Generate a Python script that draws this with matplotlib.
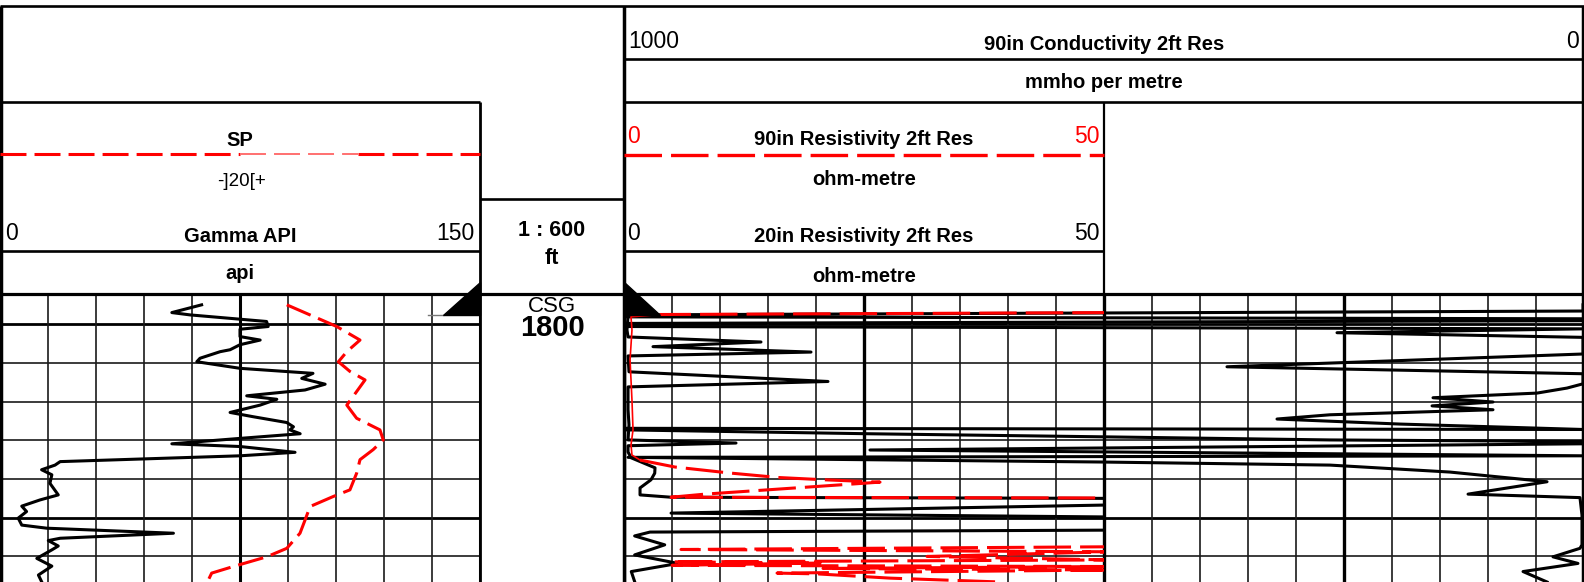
import matplotlib
matplotlib.use('Agg')
from matplotlib import pyplot as plt

plt.rcParams['font.family'] = ['Liberation Sans', 'DejaVu Sans']
plt.rcParams['lines.scale_dashes'] = False

W, H = 1584, 582

# depth window (ft) and grid depths
top_depth, base_depth = 1792.2, 1866.6
grid_depths = [1800, 1810, 1820, 1830, 1840, 1850, 1860]
thick_depths = [1800, 1850]

# Gamma ray (API, 0-150)
gr_depth = [1795.0, 1797.0, 1797.6, 1799.3, 1800.6, 1801.3, 1803.2, 1804.1, 1805.3, 1806.6,
            1807.1, 1808.8, 1809.7, 1811.4, 1812.7, 1814.0, 1815.5, 1817.0, 1818.5, 1819.4,
            1820.9, 1822.8, 1823.9, 1825.4, 1826.5, 1827.3, 1828.3, 1829.5, 1830.9, 1831.6,
            1833.1, 1834.0, 1835.5, 1836.4, 1837.6, 1838.9, 1841.1, 1844.1, 1845.4, 1847.0,
            1848.4, 1850.1, 1851.9, 1852.7, 1854.0, 1855.3, 1855.9, 1857.3, 1858.3, 1860.5,
            1862.5, 1864.8, 1866.5]
gr_api = [63.0, 53.7, 59.4, 83.3, 83.8, 75.0, 75.0, 81.3, 75.0, 71.9,
          68.8, 62.5, 61.5, 75.0, 97.8, 94.3, 101.6, 95.3, 77.1, 86.5,
          81.3, 71.9, 79.1, 89.6, 91.7, 90.6, 93.8, 75.0, 53.7, 75.0,
          92.2, 75.0, 18.8, 17.2, 13.0, 16.2, 15.6, 18.2, 12.5, 6.8,
          8.3, 5.7, 6.8, 14.6, 54.2, 18.8, 15.1, 18.2, 16.2, 11.5,
          16.2, 12.0, 13.0]

# SP (mV, 20 mV per division)
sp_depth = [1795.0, 1800.6, 1804.1, 1807.1, 1809.7, 1812.2, 1814.4, 1817.4, 1820.9, 1824.3,
            1827.3, 1829.9, 1832.4, 1835.0, 1838.5, 1842.8, 1844.5, 1847.1, 1850.6, 1854.0,
            1857.9, 1860.1, 1862.6, 1864.3, 1866.1]
sp_mv = [19.5, 40.3, 50.0, 44.5, 41.0, 45.8, 52.1, 48.6, 44.5, 48.6,
         58.3, 59.7, 55.5, 50.0, 48.6, 45.8, 38.9, 29.2, 27.1, 25.0,
         19.5, 11.1, -2.8, -11.8, -13.2]

# 20in resistivity (ohm-m, 0-50)
res20_depth = [1797.9, 1801.5, 1803.3, 1804.6, 1805.8, 1807.2, 1808.2, 1812.3, 1814.8, 1816.2,
               1822.1, 1826.0, 1829.9, 1830.7, 1831.4, 1833.0, 1834.5, 1837.1, 1838.5, 1840.2,
               1842.3, 1844.1, 1844.7, 1845.0, 1846.7, 1848.8, 1849.8, 1853.2, 1853.7, 1854.7,
               1857.0, 1859.6, 1861.8, 1863.9, 1866.5]
res20 = [0.42, 0.31, 0.42, 14.27, 3.02, 19.48, 0.42, 0.52, 21.25, 0.42,
         0.42, 0.52, 0.42, 11.67, 0.42, 0.42, 0.73, 3.23, 3.20, 2.81,
         1.67, 1.67, 4.90, 50.6, 50.6, 4.90, 50.6, 50.6, 2.71, 1.11,
         4.24, 1.11, 5.63, 0.76, 1.11]

# 90in resistivity (ohm-m, 0-50)
res90_depth = [1797.0, 1797.5, 1798.1, 1801.5, 1809.2, 1819.6, 1827.3, 1831.2, 1833.8, 1835.1,
               1836.9, 1838.4, 1839.6, 1840.2, 1840.8, 1843.9, 1844.7, 1844.9, 1857.5, 1858.2,
               1858.8, 1860.0, 1860.9, 1861.4, 1861.7, 1862.3, 1862.6, 1863.1, 1863.5, 1864.3,
               1864.5, 1865.6, 1866.6]
res90 = [50.6, 3.75, 0.73, 0.83, 0.63, 0.83, 0.94, 0.73, 0.83, 1.67,
         5.31, 10.83, 16.04, 20.94, 26.67, 8.44, 4.90, 50.6, 50.6, 5.94,
         50.6, 31.56, 50.6, 5.0, 20.42, 5.0, 50.6, 20.73, 50.6, 15.94,
         20.1, 27.71, 39.2]

# 90in conductivity (mmho/m, 1000-0)
cond_depth = [1795.0, 1796.6, 1797.6, 1798.1, 1798.6, 1799.1, 1799.8, 1800.6, 1801.2, 1802.2,
              1803.4, 1807.7, 1811.0, 1812.8, 1815.4, 1816.5, 1817.8, 1819.0, 1820.1, 1821.1,
              1822.1, 1823.4, 1824.5, 1825.8, 1827.2, 1826.9, 1827.3, 1828.3, 1829.1, 1829.9,
              1830.3, 1830.9, 1832.5, 1834.0, 1834.4, 1835.6, 1836.4, 1838.2, 1840.7, 1843.9,
              1844.8, 1849.3, 1857.0, 1857.9, 1860.1, 1861.8, 1863.9, 1866.6]
cond = [1.0, 1.0, 997.9, 997.9, 1.0, 1.0, 997.9, 997.9, 1.0, 257.3,
        1.0, 1.0, 371.9, 1.0, 1.0, 17.7, 49.0, 157.3, 94.8, 158.3,
        94.8, 264.6, 319.8, 191.7, 1.0, 998.9, 998.9, 745.8, 500.0, 264.6,
        1.0, 1.0, 743.8, 1.0, 995.8, 504.2, 264.6, 139.6, 38.5, 120.8,
        4.2, 2.1, 2.1, 4.2, 32.3, 6.3, 63.5, 38.5]

fig = plt.figure(figsize=(W / 100, H / 100), dpi=100)


def track_axes(x0, x1, y0=294, y1=582):
    ax = fig.add_axes([x0 / W, 1 - y1 / H, (x1 - x0) / W, (y1 - y0) / H])
    ax.set_ylim(base_depth, top_depth)
    ax.set_axis_off()
    return ax


def depth_grid(ax):
    for d in grid_depths:
        thick = d in thick_depths
        ax.axhline(d, color='black' if thick else '#1a1a1a', lw=2.0 if thick else 1.2, zorder=1)


# left track: gamma + SP
ax_gr = track_axes(0, 480)
ax_gr.set_xlim(0, 150)
depth_grid(ax_gr)
for v in range(0, 151, 15):
    thick = v in (0, 75, 150)
    ax_gr.axvline(v, color='black' if thick else '#1a1a1a', lw=2.2 if thick else 1.2, zorder=1)
ax_gr.plot(gr_api, gr_depth, color='black', lw=2.2, zorder=3)

ax_sp = track_axes(0, 480)
ax_sp.set_xlim(-100, 100)
ax_sp.plot(sp_mv, sp_depth, color='red', lw=2.2, dashes=(18.7, 5.8), zorder=3)

# right track: conductivity over the whole width, resistivity on the left half
ax_cond = track_axes(624, 1584)
ax_cond.set_xlim(1000, 0)
depth_grid(ax_cond)
for v in range(0, 1001, 50):
    thick = v % 250 == 0
    ax_cond.axvline(v, color='black' if thick else '#1a1a1a', lw=2.4 if thick else 1.2, zorder=1)
ax_cond.plot(cond, cond_depth, color='black', lw=2.2, zorder=3)

ax_res = track_axes(624, 1104)
ax_res.set_xlim(0, 50)
ax_res.plot(res20, res20_depth, color='black', lw=2.2, zorder=3)
# the low-reading stretch along the track edge prints as a thin unbroken trace
ax_res.plot(res90[:2], res90_depth[:2], color='red', lw=2.2, dashes=(27, 6.5), zorder=4)
ax_res.plot(res90[1:10], res90_depth[1:10], color='red', lw=1.2, zorder=4)
ax_res.plot(res90[9:], res90_depth[9:], color='red', lw=2.2, dashes=(27, 6.5), zorder=4)

# header overlay in pixel units
ov = fig.add_axes([0, 0, 1, 1])
ov.set_xlim(0, W)
ov.set_ylim(H, 0)
ov.set_axis_off()


def hline(x0, x1, y, lw=1.9):
    ov.plot([x0, x1], [y, y], color='black', lw=lw, solid_capstyle='butt')


def vline(x, y0, y1, lw=1.9):
    ov.plot([x, x], [y0, y1], color='black', lw=lw, solid_capstyle='butt')


hline(0, W, 6)
hline(0, W, 294, lw=2.3)
vline(1, 6, H, lw=2.5)
vline(W - 1, 6, H, lw=2.5)
vline(624, 6, H, lw=2.5)
hline(0, 480, 102)
vline(480, 102, H, lw=2.0)
hline(0, 480, 251)
hline(480, 624, 199)
hline(624, W, 59)
hline(624, W, 102)
vline(1104, 102, 294, lw=1.6)
hline(624, 1104, 251)

lab = dict(fontsize=14.5, fontweight='bold', ha='center', va='baseline')
num = dict(fontsize=16.5, va='baseline')

# SP / gamma header
ov.text(240, 146, 'SP', **lab)
ov.plot([0, 240], [154, 154], color='red', lw=2.2, dashes=(18.7, 5.8))
ov.plot([240, 358], [154, 154], color='#ff7070', lw=1.4, dashes=(18.7, 5.8))
ov.plot([358, 480], [154, 154], color='red', lw=2.2, dashes=(18.7, 5.8))
ov.text(242, 186, '-]20[+', fontsize=13.5, ha='center', va='baseline')
ov.text(5, 240, '0', ha='left', **num)
ov.text(240, 241.5, 'Gamma API', **lab)
ov.text(475, 240, '150', ha='right', **num)
ov.text(240, 279, 'api', **lab)

# depth header
ov.text(552, 236.5, '1 : 600', fontsize=15.5, fontweight='bold', ha='center', va='baseline')
ov.text(552, 264, 'ft', fontsize=15.5, fontweight='bold', ha='center', va='baseline')
ov.text(552, 312.5, 'CSG', fontsize=16, ha='center', va='baseline', zorder=5)
ov.text(552, 336.5, '1800', fontsize=21, fontweight='bold', ha='center', va='baseline', zorder=5)

# conductivity header
ov.text(628, 48.3, '1000', ha='left', **num)
ov.text(1104, 50, '90in Conductivity 2ft Res', **lab)
ov.text(1579, 48.3, '0', ha='right', **num)
ov.text(1104, 88, 'mmho per metre', **lab)

# resistivity header
ov.text(627, 143, '0', ha='left', color='red', **num)
ov.text(864, 145, '90in Resistivity 2ft Res', **lab)
ov.text(1100, 143, '50', ha='right', color='red', **num)
ov.plot([624, 1104], [155, 155], color='red', lw=2.4, dashes=(27, 6.5))
ov.text(864, 185, 'ohm-metre', **lab)
ov.text(627, 240, '0', ha='left', **num)
ov.text(864, 242, '20in Resistivity 2ft Res', **lab)
ov.text(1100, 240, '50', ha='right', **num)
ov.text(864, 281.5, 'ohm-metre', **lab)

# casing shoe markers
ov.fill([480, 480, 443], [282, 315, 315], color='black', zorder=6)
ov.fill([624, 624, 660], [282, 315, 315], color='black', zorder=6)
ov.plot([428, 443], [315, 315], color='#777777', lw=1.0)

fig.savefig('out.png', dpi=100)
